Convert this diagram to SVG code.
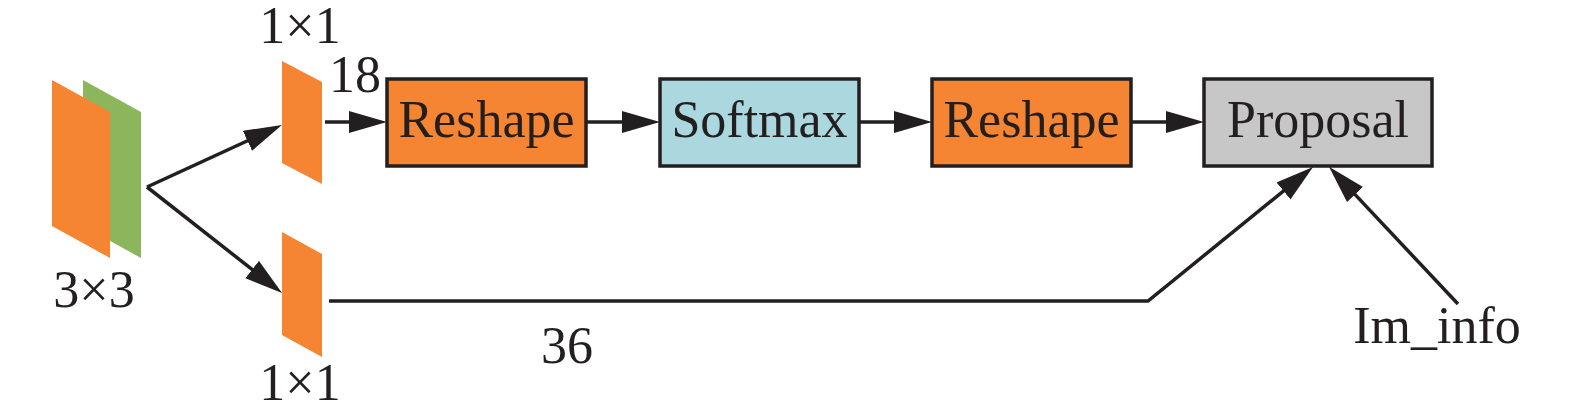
<svg xmlns="http://www.w3.org/2000/svg" width="1575" height="418" viewBox="0 0 1575 418">
<style>
.box{stroke:#231F20;stroke-width:3.5}
.orange{fill:#F58532}
.green{fill:#8CB65C}
.blue{fill:#ABD8DF}
.grey{fill:#C7C7C7}
.conn{fill:none;stroke:#231F20;stroke-width:3.5}
text{font-family:"Liberation Serif","Times New Roman",serif;font-size:52px;fill:#231F20}
.c{text-anchor:middle}
</style>
<defs>
<marker id="arr" markerUnits="userSpaceOnUse" markerWidth="40" markerHeight="24" refX="18" refY="11" orient="auto" viewBox="0 0 40 24">
<path d="M0,0 L38,11 L0,22 z" fill="#231F20"/>
</marker>
</defs>
<rect width="1575" height="418" fill="#fff"/>
<g id="conv3x3">
<polygon class="green" points="83,80 141,112 141,258 83,226"/>
<polygon class="orange" points="52,80 110,112 110,258 52,226"/>
<text class="c" x="94" y="307">3×3</text>
</g>
<g id="conv1x1-top">
<polygon class="orange" points="282,61 322,82 322,184 282,163"/>
<text class="c" x="300" y="43">1×1</text>
</g>
<g id="conv1x1-bottom">
<polygon class="orange" points="282,232 322,254 322,357 282,335"/>
<text class="c" x="300" y="400">1×1</text>
</g>
<g id="reshape1">
<rect class="box orange" x="387" y="79" width="199" height="87"/>
<text class="c" x="486.5" y="137">Reshape</text>
</g>
<g id="softmax">
<rect class="box blue" x="660" y="79" width="199" height="87"/>
<text class="c" x="759.5" y="137">Softmax</text>
</g>
<g id="reshape2">
<rect class="box orange" x="932" y="79" width="199" height="87"/>
<text class="c" x="1031.5" y="137">Reshape</text>
</g>
<g id="proposal">
<rect class="box grey" x="1204" y="79" width="228" height="87"/>
<text class="c" x="1318" y="137">Proposal</text>
</g>
<g id="im_info">
<text class="c" x="1437" y="343">Im_info</text>
</g>
<g id="connectors">
<path class="conn" d="M147,187 L263.8,133.3" marker-end="url(#arr)"/>
<path class="conn" d="M147,187 L266.3,280.6" marker-end="url(#arr)"/>
<path class="conn" d="M325,122 L367,122" marker-end="url(#arr)"/>
<path class="conn" d="M586,122 L640,122" marker-end="url(#arr)"/>
<path class="conn" d="M859,122 L912,122" marker-end="url(#arr)"/>
<path class="conn" d="M1131,122 L1184,122" marker-end="url(#arr)"/>
<path class="conn" d="M329,301 L1148,301 L1297.5,179.6" marker-end="url(#arr)"/>
<path class="conn" d="M1458,304 L1342.7,181.4" marker-end="url(#arr)"/>
<text x="329" y="92">18</text>
<text x="541" y="363">36</text>
</g>
</svg>
